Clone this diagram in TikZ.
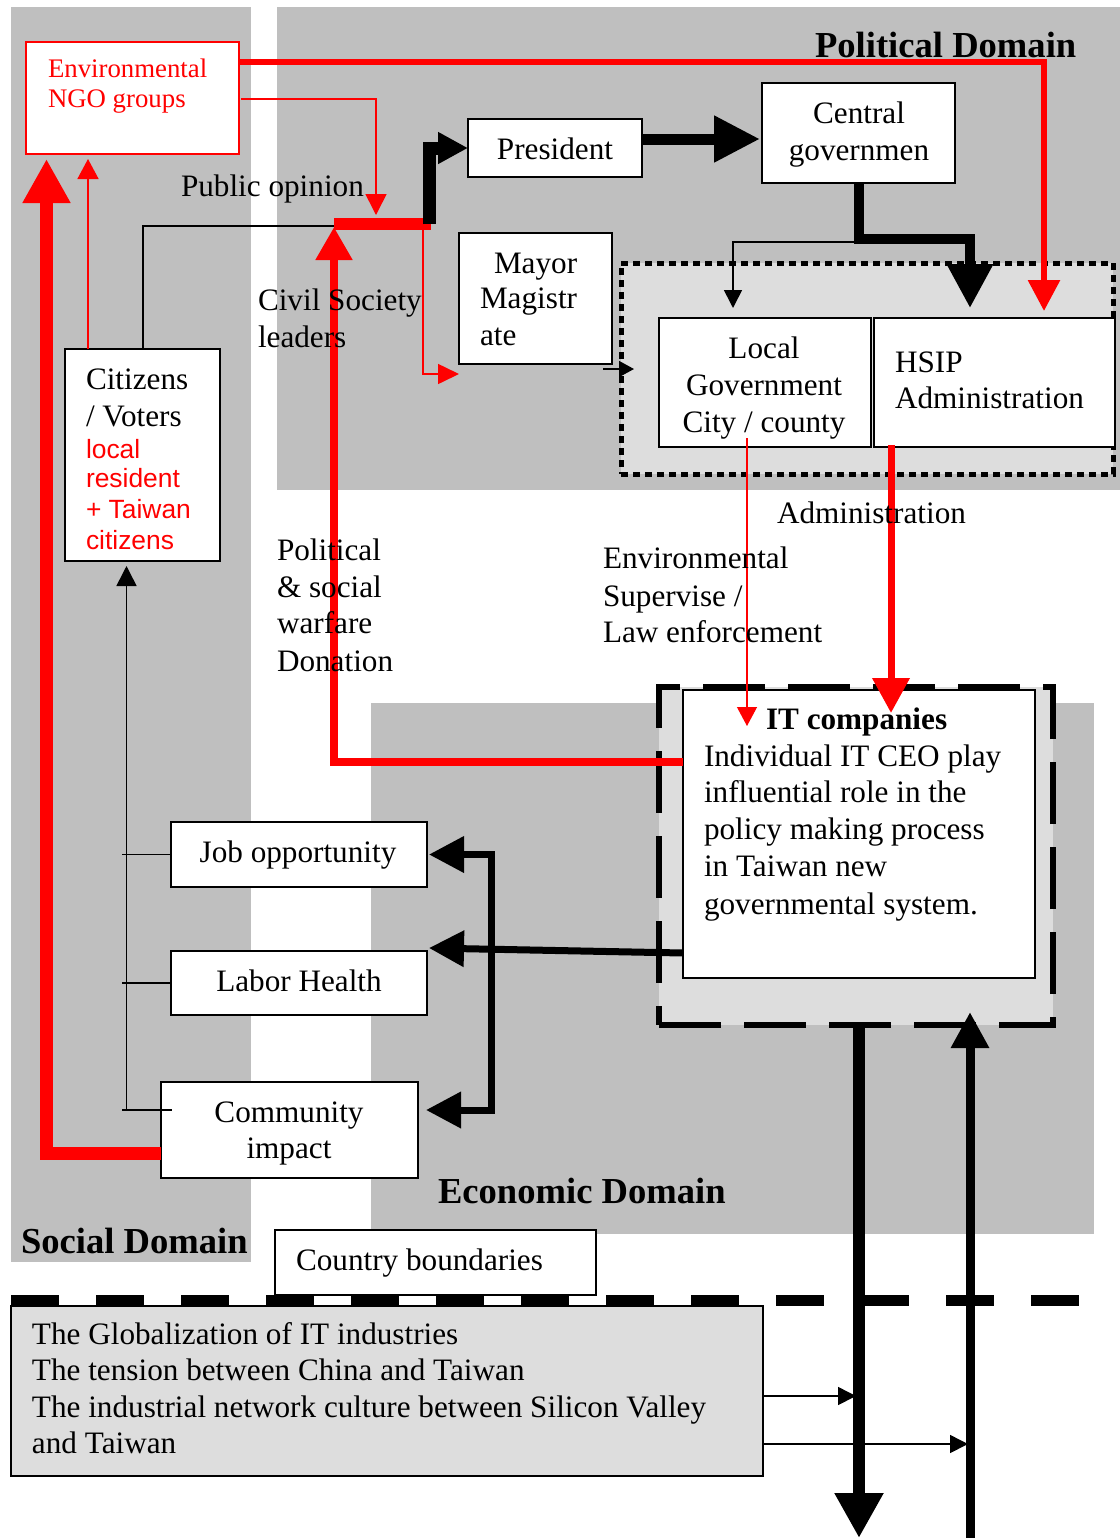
\documentclass[tikz,border=0pt]{standalone}
\usepackage{fontspec}
\setmainfont{Liberation Serif}
\newfontfamily\arialfont{Liberation Sans}
\usetikzlibrary{arrows.meta,fit,calc}
\definecolor{bggray}{RGB}{191,191,191}
\definecolor{lightg}{RGB}{221,221,221}
\tikzset{
  every node/.append style={outer sep=0pt},
  bg/.style={fill=bggray, draw=none, inner sep=0pt},
  bx/.style={draw, fill=white, line width=0.9pt, inner sep=0pt},
  tx/.style={inner sep=0pt, font=\fontsize{15.6}{18.5}\selectfont},
  txb/.style={inner sep=0pt, font=\fontsize{15.6}{18.5}\selectfont\bfseries},
  tdom/.style={inner sep=0pt, font=\fontsize{18.3}{22}\selectfont\bfseries},
  tngo/.style={inner sep=0pt, text=red, font=\fontsize{13.4}{16}\selectfont},
  tsans/.style={inner sep=0pt, text=red, font=\arialfont\fontsize{13.2}{15.5}\selectfont},
  thinln/.style={line width=0.8pt},
  rthin/.style={red, line width=0.8pt},
}
\begin{document}
\begin{tikzpicture}[x=0.5pt,y=-0.5pt]
\useasboundingbox (0,0) rectangle (1120,1538);
% domains
\node[bg, fit={(11,7)(251,1262)}] (social) {};
\node[bg, fit={(277,7)(1120,490)}] (political) {};
\node[bg, fit={(371,703)(1094,1234)}] (economic) {};
% regions
\node[fit={(621,263)(1113,474)}, inner sep=0pt, fill=lightg, draw, line width=2.5pt, dash pattern=on 3.5pt off 2.5pt] (govreg) {};
\node[fit={(659,687)(1053,1025)}, inner sep=0pt, fill=lightg, draw, line width=3pt, dash pattern=on 31pt off 11.5pt] (itreg) {};
% boxes
\node[bx, draw=red, fit={(26,42)(239,154)}] (ngo) {};
\node[bx, fit={(468,119)(642,177)}] (pres) {};
\node[bx, fit={(762,83)(955,183)}] (cent) {};
\node[bx, fit={(459,233)(612,364)}] (mayor) {};
\node[bx, fit={(659,318)(871,447)}] (local) {};
\node[bx, fit={(874,318)(1115,447)}] (hsip) {};
\node[bx, fit={(65,349)(220,561)}] (citz) {};
\node[bx, fit={(683,690)(1035,978)}] (it) {};
\node[bx, fit={(171,822)(427,887)}] (job) {};
\node[bx, fit={(171,951)(427,1015)}] (labor) {};
\node[bx, fit={(161,1082)(418,1178)}] (comm) {};
\node[bx, fit={(275,1230)(596,1295)}] (country) {};
\node[bx, fill=lightg, fit={(11,1306)(763,1476)}] (glob) {};
% coordinates
\coordinate (barW) at (334,224);
\coordinate (barE) at (431,224);
\coordinate (poin) at (376,215);
\coordinate (outS) at (859,1538);
\coordinate (inS) at (970,1538);
\coordinate (cbL) at (11,1300);
\coordinate (cbR) at (1080,1300);
% country boundary line
\draw[line width=5.5pt, dash pattern=on 24pt off 18.5pt] (cbL) -- (cbR);
% NGO -> HSIP
\draw[red, line width=3pt, -{Triangle[length=15.5pt,width=15.5pt]}] ($(ngo.north east)+(0,20)$) -| ($(hsip.north east)+(-71,-7)$);
% NGO -> public opinion
\draw[rthin, -{Triangle[length=10.5pt,width=10.5pt]}] ($(ngo.east)+(2,1)$) -| (poin);
% Community -> NGO
\draw[red, line width=6.5pt, -{Triangle[length=22pt,width=22.5pt]}] ($(comm.west)+(0,23)$) -| ($(ngo.south west)+(20.5,5)$);
% Citizens -> NGO
\draw[rthin, -{Triangle[length=10pt,width=10.5pt]}] ($(citz.north west)+(23,0)$) -- ($(ngo.south west)+(62,5)$);
% Citizens -> public opinion
\draw[thinln] ($(citz.north west)+(78,0)$) |- ($(barW)+(0,2)$);
% red bar
\draw[red, line width=6pt] (barW) -- (barE);
% IT -> civil society
\draw[red, line width=4pt, -{Triangle[length=16.5pt,width=17.5pt]}] ($(it.west)+(0,-72)$) -| ($(barW)+(0,3)$);
% bar -> mayor
\draw[rthin, -{Triangle[length=10.5pt,width=10pt]}] ($(barE)+(-8,6)$) |- ($(mayor.south west)+(0,10)$);
% bar -> president
\draw[line width=6.5pt, -{Triangle[length=15pt,width=15pt]}] ($(barE)+(-1.5,0)$) |- (pres.west);
% President -> Central
\draw[line width=5.5pt, -{Triangle[length=23pt,width=22pt]}] ($(pres.east)+(0,-9)$) -- ($(cent.west)+(-2,6)$);
% Central -> HSIP
\draw[line width=5pt, -{Triangle[length=22pt,width=22pt]}] (cent.south) -- ++(0,56) -| ($(hsip.north west)+(96,-10)$);
% Central -> Local
\draw[thinln, -{Triangle[length=9pt,width=9pt]}] ($(cent.south)+(0,59)$) -| ($(local.north west)+(74,-10)$);
% Mayor -> region
\draw[thinln, -{Triangle[length=7.5pt,width=8pt]}] ($(mayor.south east)+(-9,5)$) -- ($(govreg.west)+(13,0.5)$);
% Local -> IT
\draw[red, line width=0.6pt, -{Triangle[length=9.5pt,width=10pt]}] ($(local.south west)+(88,-9)$) -- ($(it.north west)+(64,36)$);
% HSIP -> IT
\draw[red, line width=3.5pt, -{Triangle[length=17.5pt,width=18pt]}] ($(hsip.south west)+(17,-2)$) -- ($(it.north west)+(208,23)$);
% IT -> Labor
\draw[line width=3.5pt, -{Triangle[length=17.5pt,width=17.5pt]}] ($(it.south west)+(0,-25)$) -- ($(labor.north east)+(2,-3)$);
% Job <-> Community
\draw[line width=3.5pt, {Triangle[length=17.5pt,width=17.5pt]}-{Triangle[length=17.5pt,width=17.5pt]}] ($(job.east)+(2,0)$) -- ++(62,0) |- ($(comm.east)+(8,-20)$);
% tree to citizens
\draw[thinln, -{Triangle[length=10pt,width=10pt]}] ($(comm.west)+(-34.5,-20)$) -- ($(citz.south west)+(61.5,5)$);
\draw[thinln] ($(job.west)+(-49,0)$) -- (job.west);
\draw[thinln] ($(labor.west)+(-49,0)$) -- (labor.west);
\draw[thinln] ($(comm.west)+(-39,-20)$) -- ($(comm.west)+(11,-20)$);
% IT -> outside, outside -> IT
\draw[line width=6pt, -{Triangle[length=22.5pt,width=23pt]}] ($(itreg.south west)+(200,0)$) -- (outS);
\draw[line width=4.5pt, -{Triangle[length=18pt,width=18pt]}] (inS) -- ($(itreg.south west)+(311,-13)$);
% glob arrows
\draw[thinln, -{Triangle[length=9pt,width=9pt]}] ($(glob.east)+(0,5)$) -- ($(outS |- glob.east)+(-3,5)$);
\draw[thinln, -{Triangle[length=9pt,width=9pt]}] ($(glob.east)+(0,53)$) -- ($(inS |- glob.east)+(-2,53)$);
% texts
\node[tdom, anchor=base west] (tpol) at (815,57) {Political Domain};
\node[tngo, anchor=base west] (tngo1) at (48,77) {Environmental};
\node[tngo, anchor=base west] (tngo2) at (48,107) {NGO groups};
\node[tx, anchor=base] (tpres) at (555,159) {President};
\node[tx, anchor=base] (tcen1) at (859,123) {Central};
\node[tx, anchor=base] (tcen2) at (859,160) {governmen};
\node[tx, anchor=base west] (tpub) at (181,196) {Public opinion};
\node[tx, anchor=base west] (tmay1) at (494,273) {Mayor};
\node[tx, anchor=base west] (tmay2) at (480,308) {Magistr};
\node[tx, anchor=base west] (tmay3) at (480,345) {ate};
\node[tx, anchor=base west] (tciv1) at (258,310) {Civil Society};
\node[tx, anchor=base west] (tciv2) at (258,347) {leaders};
\node[tx, anchor=base] (tloc1) at (764,358) {Local};
\node[tx, anchor=base] (tloc2) at (764,395) {Government};
\node[tx, anchor=base] (tloc3) at (764,432) {City / county};
\node[tx, anchor=base west] (thsip1) at (895,372) {HSIP};
\node[tx, anchor=base west] (thsip2) at (895,408) {Administration};
\node[tx, anchor=base west] (tcit1) at (86,389) {Citizens};
\node[tx, anchor=base west] (tcit2) at (86,426) {/ Voters};
\node[tsans, anchor=base west] (tcit3) at (86,458) {local};
\node[tsans, anchor=base west] (tcit4) at (86,487) {resident};
\node[tsans, anchor=base west] (tcit5) at (86,518) {+ Taiwan};
\node[tsans, anchor=base west] (tcit6) at (86,549) {citizens};
\node[tx, anchor=base west] (tadm) at (777,523) {Administration};
\node[tx, anchor=base west] (tps1) at (277,560) {Political};
\node[tx, anchor=base west] (tps2) at (277,597) {\& social};
\node[tx, anchor=base west] (tps3) at (277,633) {warfare};
\node[tx, anchor=base west] (tps4) at (277,671) {Donation};
\node[tx, anchor=base west] (tenv1) at (603,568) {Environmental};
\node[tx, anchor=base west] (tenv2) at (603,606) {Supervise /};
\node[tx, anchor=base west] (tenv3) at (603,642) {Law enforcement};
\node[txb, anchor=base west] (tit0) at (766,729) {IT companies};
\node[tx, anchor=base west] (tit1) at (704,766) {Individual IT CEO play};
\node[tx, anchor=base west] (tit2) at (704,802.5) {influential role in the};
\node[tx, anchor=base west] (tit3) at (704,839) {policy making process};
\node[tx, anchor=base west] (tit4) at (704,876) {in Taiwan new};
\node[tx, anchor=base west] (tit5) at (704,914) {governmental system.};
\node[tx, anchor=base] (tjob) at (298,862) {Job opportunity};
\node[tx, anchor=base] (tlab) at (299,991) {Labor Health};
\node[tx, anchor=base] (tcom1) at (289,1122) {Community};
\node[tx, anchor=base] (tcom2) at (289,1158) {impact};
\node[tdom, anchor=base west] (teco) at (438,1203) {Economic Domain};
\node[tdom, anchor=base west] (tsoc) at (21,1253) {Social Domain};
\node[tx, anchor=base west] (tcb) at (296,1270) {Country boundaries};
\node[tx, anchor=base west] (tg1) at (32,1344) {The Globalization of IT industries};
\node[tx, anchor=base west] (tg2) at (32,1380) {The tension between China and Taiwan};
\node[tx, anchor=base west] (tg3) at (32,1417) {The industrial network culture between Silicon Valley};
\node[tx, anchor=base west] (tg4) at (32,1453) {and Taiwan};
\end{tikzpicture}
\end{document}
